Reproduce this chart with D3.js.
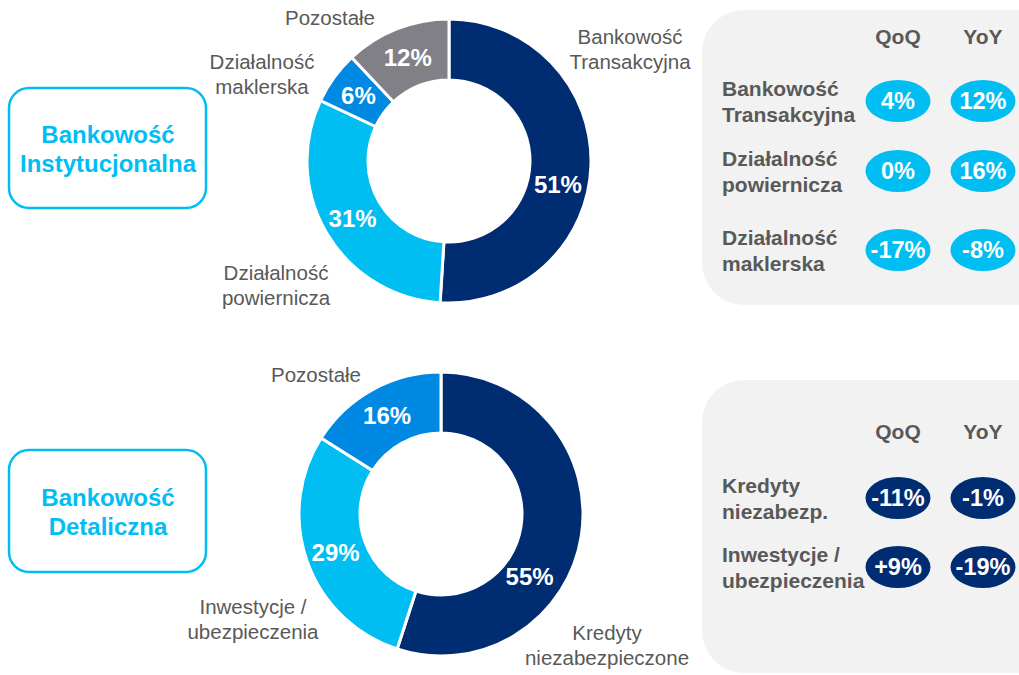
<!DOCTYPE html>
<html>
<head>
<meta charset="utf-8">
<script src="https://cdn.jsdelivr.net/npm/d3@7"></script>
<style>
  body { margin: 0; background: #fff; }
  svg { display: block; font-family: "Liberation Sans", Arial, sans-serif; }
</style>
</head>
<body>
<div id="chart"></div>
<script>
// segment names and shares (%)
const instSegments = ["Bankowość\nTransakcyjna", "Działalność\npowiernicza", "Działalność\nmaklerska", "Pozostałe"];
const instShares = [51, 31, 6, 12];
const retailSegments = ["Kredyty\nniezabezpieczone", "Inwestycje /\nubezpieczenia", "Pozostałe"];
const retailShares = [55, 29, 16];

// growth tables
const instRows = ["Bankowość\nTransakcyjna", "Działalność\npowiernicza", "Działalność\nmaklerska"];
const instQoQ = ["4%", "0%", "-17%"];
const instYoY = ["12%", "16%", "-8%"];
const retailRows = ["Kredyty\nniezabezp.", "Inwestycje /\nubezpieczenia"];
const retailQoQ = ["-11%", "+9%"];
const retailYoY = ["-1%", "-19%"];
const colHeaders = ["QoQ", "YoY"];

const NAVY = "#002d72", SKY = "#00bdf2", BLUE = "#0089e3", GREY = "#808086", TXT = "#595959";

const width = 1019, height = 675;
const svg = d3.select("#chart").append("svg")
    .attr("width", width)
    .attr("height", height);

function multiline(sel, str, lh) {
    const lines = str.split("\n");
    lines.forEach(function (l, i) {
        sel.append("tspan").attr("x", sel.attr("x")).attr("dy", i === 0 ? 0 : lh).text(l);
    });
}

function drawTitleBox(y, h, title) {
    svg.append("rect")
        .attr("x", 9).attr("y", y).attr("width", 197).attr("height", h)
        .attr("rx", 20)
        .style("fill", "#fff").style("stroke", SKY).style("stroke-width", 2.5);
    const t = svg.append("text")
        .attr("x", 108).attr("y", y + h / 2 - 5)
        .attr("text-anchor", "middle")
        .style("font-size", "24px").style("font-weight", "bold").style("fill", SKY);
    multiline(t, title, 29);
}

function drawDonut(cx, cy, values, names, colors, labelPos, pctNudge) {
    const pie = d3.pie().sort(null).value(d => d);
    const arcs = pie(values);
    const arc = d3.arc().innerRadius(81).outerRadius(142);
    const labelArc = d3.arc().innerRadius(112).outerRadius(112);

    const g = svg.append("g").attr("transform", `translate(${cx},${cy})`);
    g.selectAll("path.slice")
        .data(arcs)
        .enter().append("path")
        .attr("class", "slice")
        .attr("d", arc)
        .style("fill", (d, i) => colors[i])
        .style("stroke", "#fff")
        .style("stroke-width", 3);

    g.selectAll("text.pct")
        .data(arcs)
        .enter().append("text")
        .attr("class", "pct")
        .attr("transform", function (d, i) {
            const c = labelArc.centroid(d);
            const n = pctNudge[i] || [0, 0];
            return `translate(${c[0] + n[0]},${c[1] + n[1]})`;
        })
        .attr("dy", "0.36em")
        .attr("text-anchor", "middle")
        .style("font-size", "24px").style("font-weight", "bold").style("fill", "#fff")
        .text(d => d.data + "%");

    names.forEach(function (name, i) {
        const t = svg.append("text")
            .attr("x", labelPos[i][0]).attr("y", labelPos[i][1])
            .attr("text-anchor", "middle")
            .style("font-size", "20.5px").style("fill", TXT);
        multiline(t, name, 25);
    });
}

function drawTable(y, h, rows, qoq, yoy, pillColor, headerY, rowYs) {
    svg.append("rect")
        .attr("x", 702).attr("y", y).attr("width", 360).attr("height", h)
        .attr("rx", 42)
        .style("fill", "#f2f2f2");

    const colX = [898, 983];
    colHeaders.forEach(function (c, i) {
        svg.append("text")
            .attr("x", colX[i]).attr("y", headerY).attr("dy", "0.35em")
            .attr("text-anchor", "middle")
            .style("font-size", "21px").style("font-weight", "bold").style("fill", TXT)
            .text(c);
    });

    rows.forEach(function (r, i) {
        const ry = rowYs[i];
        const t = svg.append("text")
            .attr("x", 722).attr("y", ry - 5)
            .style("font-size", "21px").style("font-weight", "bold").style("fill", TXT);
        multiline(t, r, 26);
        [qoq[i], yoy[i]].forEach(function (v, j) {
            svg.append("ellipse")
                .attr("cx", colX[j]).attr("cy", ry)
                .attr("rx", 32.5).attr("ry", 21)
                .style("fill", pillColor);
            svg.append("text")
                .attr("x", colX[j]).attr("y", ry).attr("dy", "0.36em")
                .attr("text-anchor", "middle")
                .style("font-size", "23.5px").style("font-weight", "bold").style("fill", "#fff")
                .text(v);
        });
    });
}

// top section
drawTitleBox(88, 120, "Bankowość\nInstytucjonalna");
drawDonut(449, 161, instShares, instSegments, [NAVY, SKY, BLUE, GREY],
    [[630, 44], [276, 280], [262, 69], [330, 25]],
    [[-3, 20], [0, 0], [0, 0], [0, 0]]);
drawTable(10, 295, instRows, instQoQ, instYoY, SKY, 37, [101, 171, 250]);

// bottom section
drawTitleBox(450, 122, "Bankowość\nDetaliczna");
drawDonut(441, 514, retailShares, retailSegments, [NAVY, SKY, BLUE],
    [[607, 640], [253, 614], [316, 382]],
    [[-22, 45], [0, 0], [0, 0]]);
drawTable(380, 293, retailRows, retailQoQ, retailYoY, NAVY, 432, [498, 567]);
</script>
</body>
</html>
